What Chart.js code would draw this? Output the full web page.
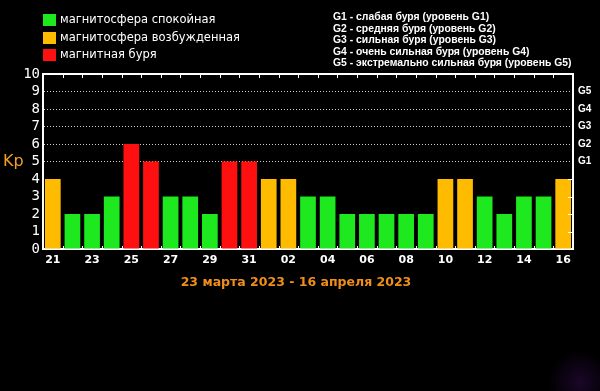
<!DOCTYPE html>
<html>
<head>
<meta charset="utf-8">
<script src="https://cdn.jsdelivr.net/npm/chart.js@4/dist/chart.umd.min.js"></script>
<style>
  body { margin: 0; background: #000; }
  #wrap {
    position: relative; width: 600px; height: 391px; overflow: hidden;
    background: radial-gradient(circle at 580px 382px, rgba(60, 15, 90, 0.45), rgba(0, 0, 0, 0) 32px), #000;
  }
  canvas { position: absolute; left: 0; top: 0; }
  .txt { position: absolute; white-space: nowrap; }
  .sq { position: absolute; left: 43px; width: 13px; height: 12px; }
  .leg { left: 60px; color: #fff; font: 11.5px "DejaVu Sans", sans-serif; }
  #gleg { left: 333px; top: 11px; color: #fff; font: bold 10.4px "Liberation Sans", sans-serif; line-height: 11.5px; }
  #kp-label { left: 3px; top: 151px; color: #f0a020; font: 16px "DejaVu Sans", sans-serif; }
  #range { left: 0; width: 592px; top: 274px; text-align: center; color: #f08e1a; font: bold 12.5px "DejaVu Sans", sans-serif; }
</style>
</head>
<body>
<div id="wrap">
  <canvas id="kpChart" width="600" height="391"></canvas>
  <div class="sq" style="top:14px;background:#1ee81e"></div>
  <div class="sq" style="top:32px;background:#ffbb00"></div>
  <div class="sq" style="top:49px;background:#ff1010"></div>
  <div class="txt leg" style="top:12px">магнитосфера спокойная</div>
  <div class="txt leg" style="top:30px">магнитосфера возбужденная</div>
  <div class="txt leg" style="top:47px">магнитная буря</div>
  <div class="txt" id="gleg">
    G1 - слабая буря (уровень G1)<br>
    G2 - средняя буря (уровень G2)<br>
    G3 - сильная буря (уровень G3)<br>
    G4 - очень сильная буря (уровень G4)<br>
    G5 - экстремально сильная буря (уровень G5)
  </div>
  <div class="txt" id="kp-label">Kp</div>
  <div class="txt" id="range">23 марта 2023 - 16 апреля 2023</div>
</div>
<script>
// days 21 March .. 16 April
const days = ["21", "22", "23", "24", "25", "26", "27", "28", "29", "30", "31",
  "01", "02", "03", "04", "05", "06", "07", "08", "09", "10", "11", "12", "13", "14", "15", "16"];
const kpValues = [4, 2, 2, 3, 6, 5, 3, 3, 2, 5, 5, 4, 4, 3, 3, 2, 2, 2, 2, 2, 4, 4, 3, 2, 3, 3, 4];
const stormLevels = [5, 6, 7, 8, 9];
const stormNames = ["G1", "G2", "G3", "G4", "G5"];

const GREEN = "#1ee81e";
const ORANGE = "#ffbb00";
const RED = "#ff1010";

function barColor(v) {
  if (v >= 5) return RED;
  if (v >= 4) return ORANGE;
  return GREEN;
}

// top frame line + small tick marks like the original plot
const frameTicks = {
  id: "frameTicks",
  afterDraw(chart) {
    const { ctx, chartArea: a, scales } = chart;
    const x = scales.x, y = scales.y;
    ctx.save();
    ctx.strokeStyle = "#fff";
    ctx.lineWidth = 2;
    ctx.beginPath();
    ctx.moveTo(a.left - 1, a.top);
    ctx.lineTo(a.right + 1, a.top);
    ctx.stroke();
    ctx.lineWidth = 1;
    ctx.beginPath();
    for (let i = 1; i < days.length; i++) {
      const px = Math.round((x.getPixelForValue(i - 1) + x.getPixelForValue(i)) / 2) + 0.5;
      ctx.moveTo(px, a.top);
      ctx.lineTo(px, a.top + 4);
      ctx.moveTo(px, a.bottom);
      ctx.lineTo(px, a.bottom - 3);
    }
    for (let v = 1; v < 5; v++) {
      const py = Math.round(y.getPixelForValue(v)) + 0.5;
      ctx.moveTo(a.right, py);
      ctx.lineTo(a.right - 5, py);
    }
    ctx.stroke();
    ctx.restore();
  }
};

new Chart(document.getElementById("kpChart"), {
  type: "bar",
  data: {
    labels: days,
    datasets: [{
      data: kpValues,
      backgroundColor: kpValues.map(barColor),
      borderWidth: 0,
      barPercentage: 0.8,
      categoryPercentage: 1
    }]
  },
  options: {
    responsive: false,
    animation: false,
    layout: { padding: { top: 74, left: 0, right: 0, bottom: 0 } },
    plugins: { legend: { display: false }, tooltip: { enabled: false } },
    scales: {
      x: {
        offset: true,
        grid: { display: true, drawOnChartArea: false, drawTicks: false },
        border: { color: "#fff", width: 2 },
        ticks: {
          color: "#fff",
          font: { family: "DejaVu Sans", size: 11, weight: "bold" },
          autoSkip: false,
          maxRotation: 0,
          padding: 5,
          callback: (v, i) => (i % 2 === 0 ? days[i] : "")
        },
        afterFit: s => { s.height = 142; }
      },
      y: {
        min: 0,
        max: 10,
        ticks: {
          stepSize: 1,
          autoSkip: false,
          color: "#fff",
          font: { family: "DejaVu Sans Mono", size: 14 },
          padding: 3
        },
        grid: {
          drawTicks: false,
          lineWidth: 1,
          color: c => (c.tick && c.tick.value >= 5 && c.tick.value <= 9 ? "#cfcfcf" : "rgba(0,0,0,0)")
        },
        border: { color: "#fff", width: 2, dash: [1, 2] },
        afterFit: s => { s.width = 43; }
      },
      y2: {
        position: "right",
        min: 0,
        max: 10,
        ticks: {
          stepSize: 1,
          autoSkip: false,
          color: "#fff",
          font: { family: "Liberation Sans", size: 10, weight: "bold" },
          padding: 5,
          callback: v => {
            const k = stormLevels.indexOf(v);
            return k >= 0 ? stormNames[k] : "";
          }
        },
        grid: { display: true, drawOnChartArea: false, drawTicks: false },
        border: { color: "#fff", width: 2 },
        afterFit: s => { s.width = 27; }
      }
    }
  },
  plugins: [frameTicks]
});
</script>
</body>
</html>
